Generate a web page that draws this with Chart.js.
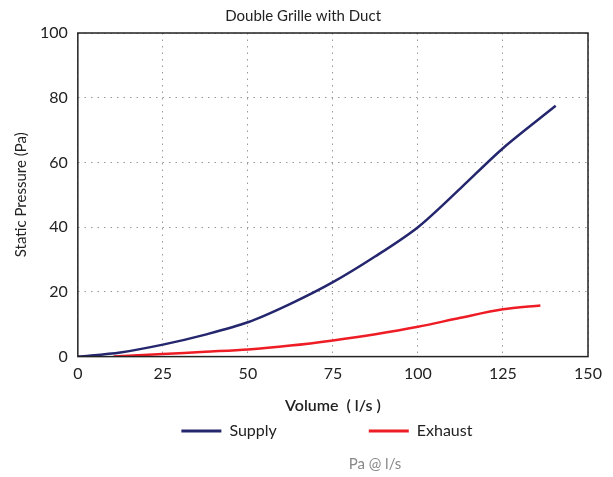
<!DOCTYPE html>
<html>
<head>
<meta charset="utf-8">
<script src="https://cdn.jsdelivr.net/npm/chart.js@4/dist/chart.umd.min.js"></script>
<style>
  html, body { margin: 0; padding: 0; background: #fff; }
  #wrap { width: 613px; height: 477px; }
</style>
</head>
<body>
<div id="wrap"><canvas id="chart" width="613" height="477"></canvas></div>
<script>
// data
const supplyX = [0, 12.5, 25, 37.5, 50, 62.5, 75, 87.5, 100, 112.5, 125, 140.5];
const supplyY = [0, 1.3, 3.7, 6.8, 10.6, 16.3, 23, 31, 40, 52, 64.4, 77.5];
const exhaustX = [10.5, 25, 37.5, 50, 62.5, 75, 87.5, 100, 112.5, 125, 136];
const exhaustY = [0, 0.8, 1.5, 2.2, 3.4, 5, 6.9, 9.2, 12, 14.6, 15.8];

const FONT = "Lato, 'DejaVu Sans', sans-serif";
const pts = (xs, ys) => xs.map((x, i) => ({ x, y: ys[i] }));

// frame round the plot + footer note
const extras = {
  id: 'extras',
  afterDraw(chart) {
    const { ctx, chartArea: a } = chart;
    ctx.save();
    ctx.strokeStyle = '#222';
    ctx.lineWidth = 1.5;
    ctx.strokeRect(a.left, a.top, a.right - a.left, a.bottom - a.top);
    ctx.fillStyle = '#888';
    ctx.font = `15px ${FONT}`;
    ctx.textAlign = 'center';
    ctx.textBaseline = 'middle';
    ctx.fillText('Pa @ l/s', 375, 464);
    ctx.restore();
  }
};

new Chart(document.getElementById('chart'), {
  type: 'line',
  data: {
    datasets: [
      { label: 'Supply', data: pts(supplyX, supplyY), borderColor: '#24266e', backgroundColor: '#24266e', borderWidth: 2.5, pointRadius: 0, tension: 0.3 },
      { label: 'Exhaust', data: pts(exhaustX, exhaustY), borderColor: '#ee1c25', backgroundColor: '#ee1c25', borderWidth: 2.5, pointRadius: 0, tension: 0.3 }
    ]
  },
  options: {
    responsive: false,
    animation: false,
    layout: { padding: { left: 7, right: 25, top: 0, bottom: 28 } },
    plugins: {
      title: { display: true, text: '\u2003Double Grille with Duct', color: '#222', font: { family: FONT, size: 15, weight: 'normal' }, padding: { top: 7, bottom: 8 } },
      legend: {
        position: 'bottom',
        fullSize: false,
        labels: {
          boxWidth: 40, boxHeight: 3, padding: 8, color: '#222', font: { family: FONT, size: 16 },
          generateLabels(chart) {
            const items = Chart.defaults.plugins.legend.labels.generateLabels(chart);
            items.forEach((it, i) => {
              it.lineWidth = 0;
              it.text += i < items.length - 1 ? '\u2003\u2003\u2003\u2003\u2003\u2003\u2003' : '\u2003';
            });
            return items;
          }
        }
      },
      tooltip: { enabled: false }
    },
    scales: {
      x: {
        type: 'linear', min: 0, max: 150,
        ticks: { stepSize: 25, color: '#222', font: { family: FONT, size: 16 }, padding: 8 },
        grid: { color: '#999', lineWidth: 1, drawTicks: false },
        border: { display: false, dash: [1.5, 5] },
        title: { display: true, text: 'Volume  ( l/s )', color: '#222', font: { family: FONT, size: 16, weight: '600' }, padding: { top: 4, bottom: 0 } }
      },
      y: {
        min: 0, max: 100,
        ticks: { stepSize: 20, color: '#222', font: { family: FONT, size: 16 }, padding: 10 },
        grid: { color: '#999', lineWidth: 1, drawTicks: false },
        border: { display: false, dash: [1.5, 5] },
        title: { display: true, text: 'Static Pressure (Pa)', color: '#222', font: { family: FONT, size: 15 }, padding: { top: 5, bottom: 0 } }
      }
    }
  },
  plugins: [extras]
});
</script>
</body>
</html>
